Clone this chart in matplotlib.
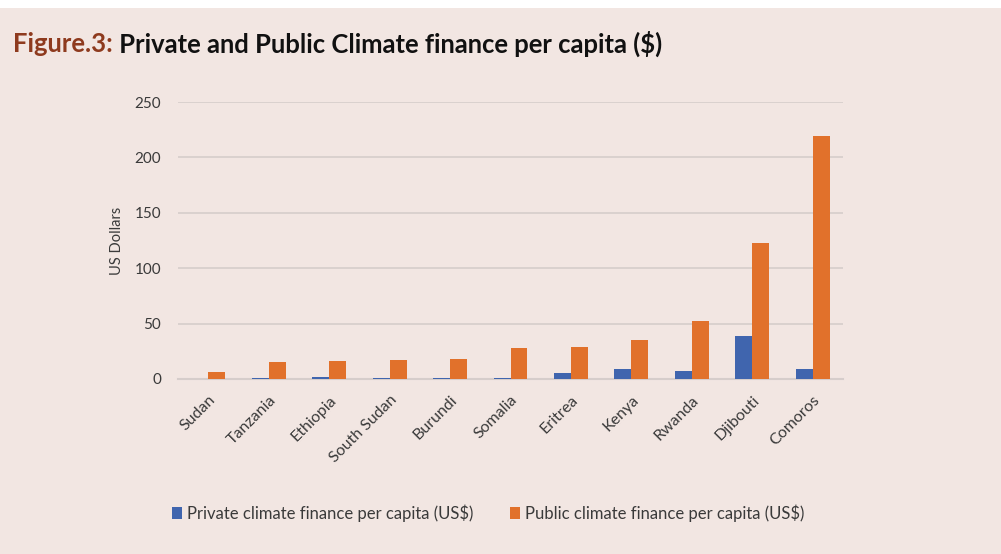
import matplotlib
matplotlib.use("Agg")
import matplotlib.pyplot as plt
import numpy as np
from matplotlib.patches import Rectangle

countries = ["Sudan", "Tanzania", "Ethiopia", "South Sudan", "Burundi", "Somalia",
             "Eritrea", "Kenya", "Rwanda", "Djibouti", "Comoros"]
private = [0.2, 0.6, 1.5, 0.5, 0.6, 1.0, 5.6, 9.0, 7.0, 39.0, 9.3]
public = [6.5, 15.3, 16.2, 16.7, 18.0, 28.0, 28.9, 35.0, 52.6, 122.5, 219.0]
yticks = [0, 50, 100, 150, 200, 250]
series_labels = ["Private climate finance per capita (US$)",
                 "Public climate finance per capita (US$)"]
title_prefix = "Figure.3:"
title_rest = " Private and Public Climate finance per capita ($)"
ylabel = "US Dollars"

BG = "#F2E6E2"
BLUE = "#4065AE"
ORANGE = "#E1712B"
TXT = "#3A3A3A"
GRID = "#D6CDCB"
FONT = "Lato"

W, H = 1001, 554
fig = plt.figure(figsize=(W / 100, H / 100), dpi=100)
fig.patch.set_facecolor("white")
fig.add_artist(Rectangle((0, 0), 1, (H - 8) / H, transform=fig.transFigure,
                         facecolor=BG, edgecolor="none", zorder=-10))

ax = fig.add_axes([178 / W, (H - 379) / H, (843 - 178) / W, (379 - 102) / H])
ax.set_facecolor("none")

x = np.arange(len(countries))
bw = 0.28
ax.bar(x - bw / 2, private, bw, color=BLUE, label=series_labels[0], zorder=3)
ax.bar(x + bw / 2, public, bw, color=ORANGE, label=series_labels[1], zorder=3)

ax.set_xlim(-0.5, len(countries) - 0.5)
ax.set_ylim(0, 250)
ax.set_yticks(yticks)
ax.set_yticklabels([str(v) for v in yticks], fontsize=11, color=TXT, fontfamily=FONT)
ax.yaxis.grid(True, color=GRID, linewidth=1.2, zorder=0)
ax.set_axisbelow(True)
for s in ["top", "right", "left"]:
    ax.spines[s].set_visible(False)
ax.spines["bottom"].set_color(GRID)
ax.spines["bottom"].set_linewidth(1.5)
ax.tick_params(axis="both", length=0)
ax.tick_params(axis="y", pad=12)

ax.set_xticks(x)
ax.set_xticklabels(countries, rotation=45, ha="right", rotation_mode="anchor",
                   fontsize=11.5, color=TXT, fontfamily=FONT)
ax.tick_params(axis="x", pad=10)

ax.set_ylabel(ylabel, fontsize=10.5, color=TXT, fontfamily=FONT, labelpad=8)

leg = fig.legend(loc="center", bbox_to_anchor=(488 / W, (H - 513) / H), ncol=2,
                 frameon=False, handlelength=0.6, handleheight=0.7,
                 handletextpad=0.3, columnspacing=2.2,
                 prop={"family": FONT, "size": 12})
for t in leg.get_texts():
    t.set_color(TXT)

# title: two coloured parts, sized to fit the reference width
ty = (H - 44) / H
target_w = 652
fs = 20
t1 = fig.text(13 / W, ty, title_prefix, fontsize=fs, color="#8E3A1E",
              fontfamily=FONT, fontweight="bold", va="center", ha="left")
t2 = fig.text(0, ty, title_rest, fontsize=fs, color="#111111",
              fontfamily=FONT, fontweight="bold", va="center", ha="left")
r = fig.canvas.get_renderer()
w = t1.get_window_extent(r).width + t2.get_window_extent(r).width
fs = fs * target_w / w
t1.set_fontsize(fs)
t2.set_fontsize(fs)
b1 = t1.get_window_extent(r)
t2.set_x(b1.x1 / W)

fig.savefig("out.png", dpi=100, facecolor=fig.get_facecolor())
